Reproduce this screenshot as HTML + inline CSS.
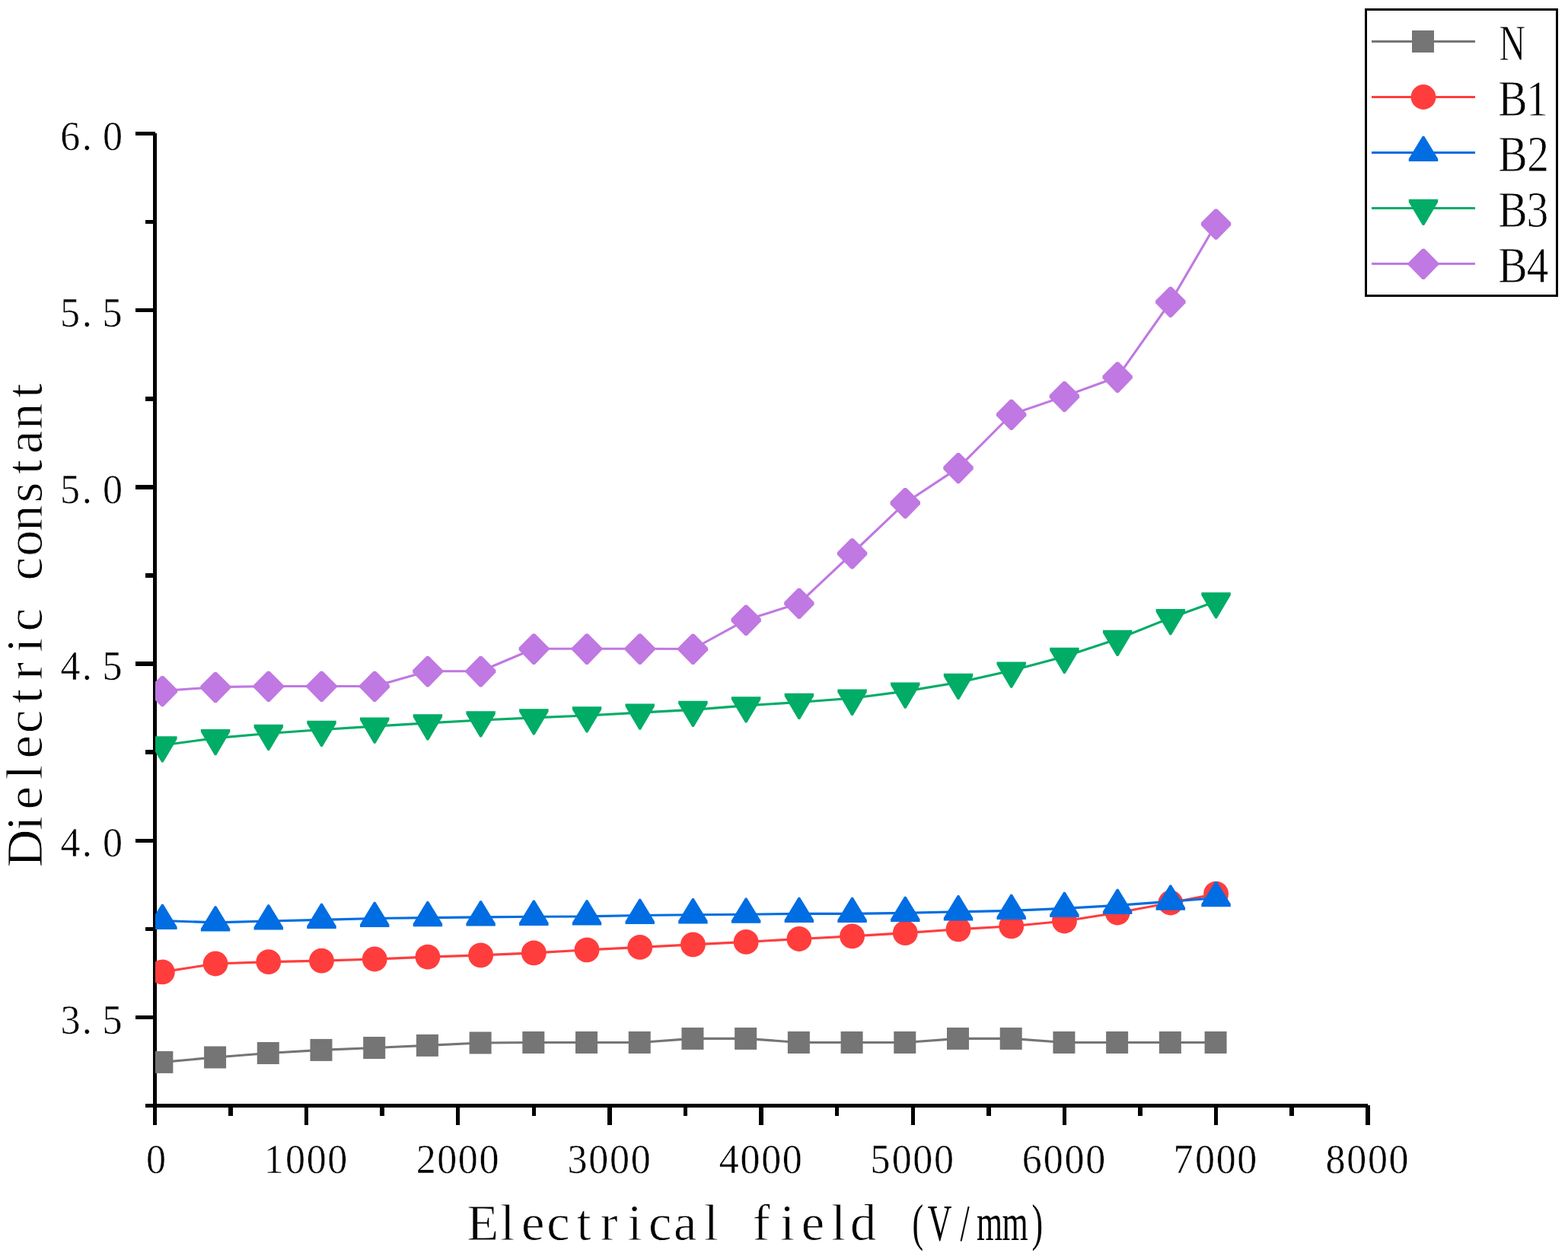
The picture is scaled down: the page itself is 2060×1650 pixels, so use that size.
<!DOCTYPE html>
<html lang="en">
<head>
<meta charset="utf-8">
<title>Dielectric constant - Electrical field (V/mm)</title>
<style>
html,body{margin:0;padding:0;background:#fff;}
body{width:2060px;height:1650px;overflow:hidden;}
svg{display:block;}
text{font-family:"Liberation Serif","Noto Serif CJK SC",serif;fill:#000;}
.tk{font-size:54.2px;stroke:#fff;stroke-width:0.5px;}
.tt{font-size:68.6px;stroke:#fff;stroke-width:0.8px;}
</style>
</head>
<body>
<svg width="2060" height="1650" viewBox="0 0 2060 1650">
<rect x="0" y="0" width="2060" height="1650" fill="#fff"/>
<g fill="#000" shape-rendering="crispEdges">
<rect x="201" y="175" width="5" height="1280"/>
<rect x="191" y="1450" width="1606" height="5"/>
<rect x="178" y="173" width="26" height="5"/>
<rect x="191" y="289" width="13" height="5"/>
<rect x="178" y="405" width="26" height="5"/>
<rect x="191" y="521" width="13" height="6"/>
<rect x="178" y="637" width="26" height="6"/>
<rect x="191" y="753" width="13" height="6"/>
<rect x="178" y="869" width="26" height="6"/>
<rect x="191" y="985" width="13" height="6"/>
<rect x="178" y="1102" width="26" height="5"/>
<rect x="191" y="1218" width="13" height="5"/>
<rect x="178" y="1334" width="26" height="5"/>
<rect x="201" y="1452" width="5" height="26"/>
<rect x="300" y="1452" width="6" height="14"/>
<rect x="400" y="1452" width="5" height="26"/>
<rect x="499" y="1452" width="6" height="14"/>
<rect x="599" y="1452" width="5" height="26"/>
<rect x="699" y="1452" width="5" height="14"/>
<rect x="798" y="1452" width="6" height="26"/>
<rect x="898" y="1452" width="5" height="14"/>
<rect x="997" y="1452" width="6" height="26"/>
<rect x="1097" y="1452" width="5" height="14"/>
<rect x="1197" y="1452" width="5" height="26"/>
<rect x="1296" y="1452" width="6" height="14"/>
<rect x="1396" y="1452" width="5" height="26"/>
<rect x="1495" y="1452" width="6" height="14"/>
<rect x="1595" y="1452" width="5" height="26"/>
<rect x="1694" y="1452" width="6" height="14"/>
<rect x="1794" y="1452" width="6" height="26"/>
</g>
<defs><clipPath id="plot"><rect x="204" y="100" width="1700" height="1350"/></clipPath></defs>
<g clip-path="url(#plot)">
<g fill="#757575" stroke="none">
<polyline points="213.36,1395.4 283.07,1389 352.78,1383.5 422.49,1379.4 492.2,1376.5 561.91,1373.4 631.62,1370 701.33,1369.5 771.03,1369.5 840.74,1369.5 910.45,1364.4 980.16,1364.4 1049.87,1369.5 1119.58,1369.5 1189.29,1369.5 1259,1364.4 1328.71,1364.4 1398.42,1369.5 1468.13,1369.5 1537.84,1369.5 1597.59,1369.5" fill="none" stroke="#757575" stroke-width="3.1" stroke-linejoin="round"/>
<rect x="198.36" y="1380.9" width="29" height="29"/>
<rect x="268.07" y="1374.5" width="29" height="29"/>
<rect x="337.78" y="1369" width="29" height="29"/>
<rect x="407.49" y="1364.9" width="29" height="29"/>
<rect x="477.2" y="1362" width="29" height="29"/>
<rect x="546.91" y="1358.9" width="29" height="29"/>
<rect x="616.62" y="1355.5" width="29" height="29"/>
<rect x="686.33" y="1355" width="29" height="29"/>
<rect x="756.03" y="1355" width="29" height="29"/>
<rect x="825.74" y="1355" width="29" height="29"/>
<rect x="895.45" y="1349.9" width="29" height="29"/>
<rect x="965.16" y="1349.9" width="29" height="29"/>
<rect x="1034.87" y="1355" width="29" height="29"/>
<rect x="1104.58" y="1355" width="29" height="29"/>
<rect x="1174.29" y="1355" width="29" height="29"/>
<rect x="1244" y="1349.9" width="29" height="29"/>
<rect x="1313.71" y="1349.9" width="29" height="29"/>
<rect x="1383.42" y="1355" width="29" height="29"/>
<rect x="1453.13" y="1355" width="29" height="29"/>
<rect x="1522.84" y="1355" width="29" height="29"/>
<rect x="1582.59" y="1355" width="29" height="29"/>
</g>
<g fill="#FF3D3D" stroke="none">
<polyline points="213.36,1276.9 283.07,1266 352.78,1263.6 422.49,1262.1 492.2,1260 561.91,1257.1 631.62,1254.9 701.33,1251.9 771.03,1247.9 840.74,1244.4 910.45,1240.9 980.16,1237.4 1049.87,1233.5 1119.58,1229.9 1189.29,1225.6 1259,1220.8 1328.71,1216.8 1398.42,1210 1468.13,1199 1537.84,1186 1597.59,1174.2" fill="none" stroke="#FF3D3D" stroke-width="3.1" stroke-linejoin="round"/>
<circle cx="213.36" cy="1276.9" r="16.4"/>
<circle cx="283.07" cy="1266" r="16.4"/>
<circle cx="352.78" cy="1263.6" r="16.4"/>
<circle cx="422.49" cy="1262.1" r="16.4"/>
<circle cx="492.2" cy="1260" r="16.4"/>
<circle cx="561.91" cy="1257.1" r="16.4"/>
<circle cx="631.62" cy="1254.9" r="16.4"/>
<circle cx="701.33" cy="1251.9" r="16.4"/>
<circle cx="771.03" cy="1247.9" r="16.4"/>
<circle cx="840.74" cy="1244.4" r="16.4"/>
<circle cx="910.45" cy="1240.9" r="16.4"/>
<circle cx="980.16" cy="1237.4" r="16.4"/>
<circle cx="1049.87" cy="1233.5" r="16.4"/>
<circle cx="1119.58" cy="1229.9" r="16.4"/>
<circle cx="1189.29" cy="1225.6" r="16.4"/>
<circle cx="1259" cy="1220.8" r="16.4"/>
<circle cx="1328.71" cy="1216.8" r="16.4"/>
<circle cx="1398.42" cy="1210" r="16.4"/>
<circle cx="1468.13" cy="1199" r="16.4"/>
<circle cx="1537.84" cy="1186" r="16.4"/>
<circle cx="1597.59" cy="1174.2" r="16.4"/>
</g>
<g fill="#006DE2" stroke="none">
<polyline points="213.36,1209.5 283.07,1211.9 352.78,1210 422.49,1208.4 492.2,1206.5 561.91,1205.6 631.62,1204.9 701.33,1204.3 771.03,1203.9 840.74,1202.5 910.45,1201.8 980.16,1201.2 1049.87,1200.4 1119.58,1200.4 1189.29,1199.4 1259,1197.8 1328.71,1196.4 1398.42,1193.4 1468.13,1189.4 1537.84,1184.2 1597.59,1179.6" fill="none" stroke="#006DE2" stroke-width="3.1" stroke-linejoin="round"/>
<path d="M212.26 1187.8L214.46 1187.8L232.56 1217.5L232.56 1221.1L194.16 1221.1L194.16 1217.5Z"/>
<path d="M281.97 1190.2L284.17 1190.2L302.27 1219.9L302.27 1223.5L263.87 1223.5L263.87 1219.9Z"/>
<path d="M351.68 1188.3L353.88 1188.3L371.98 1218L371.98 1221.6L333.58 1221.6L333.58 1218Z"/>
<path d="M421.39 1186.7L423.59 1186.7L441.69 1216.4L441.69 1220L403.29 1220L403.29 1216.4Z"/>
<path d="M491.1 1184.8L493.3 1184.8L511.4 1214.5L511.4 1218.1L473 1218.1L473 1214.5Z"/>
<path d="M560.81 1183.9L563.01 1183.9L581.11 1213.6L581.11 1217.2L542.71 1217.2L542.71 1213.6Z"/>
<path d="M630.52 1183.2L632.72 1183.2L650.82 1212.9L650.82 1216.5L612.42 1216.5L612.42 1212.9Z"/>
<path d="M700.23 1182.6L702.43 1182.6L720.53 1212.3L720.53 1215.9L682.12 1215.9L682.12 1212.3Z"/>
<path d="M769.93 1182.2L772.13 1182.2L790.23 1211.9L790.23 1215.5L751.83 1215.5L751.83 1211.9Z"/>
<path d="M839.64 1180.8L841.84 1180.8L859.94 1210.5L859.94 1214.1L821.54 1214.1L821.54 1210.5Z"/>
<path d="M909.35 1180.1L911.55 1180.1L929.65 1209.8L929.65 1213.4L891.25 1213.4L891.25 1209.8Z"/>
<path d="M979.06 1179.5L981.26 1179.5L999.36 1209.2L999.36 1212.8L960.96 1212.8L960.96 1209.2Z"/>
<path d="M1048.77 1178.7L1050.97 1178.7L1069.07 1208.4L1069.07 1212L1030.67 1212L1030.67 1208.4Z"/>
<path d="M1118.48 1178.7L1120.68 1178.7L1138.78 1208.4L1138.78 1212L1100.38 1212L1100.38 1208.4Z"/>
<path d="M1188.19 1177.7L1190.39 1177.7L1208.49 1207.4L1208.49 1211L1170.09 1211L1170.09 1207.4Z"/>
<path d="M1257.9 1176.1L1260.1 1176.1L1278.2 1205.8L1278.2 1209.4L1239.8 1209.4L1239.8 1205.8Z"/>
<path d="M1327.61 1174.7L1329.81 1174.7L1347.91 1204.4L1347.91 1208L1309.51 1208L1309.51 1204.4Z"/>
<path d="M1397.32 1171.7L1399.52 1171.7L1417.62 1201.4L1417.62 1205L1379.22 1205L1379.22 1201.4Z"/>
<path d="M1467.03 1167.7L1469.23 1167.7L1487.33 1197.4L1487.33 1201L1448.93 1201L1448.93 1197.4Z"/>
<path d="M1536.74 1162.5L1538.94 1162.5L1557.04 1192.2L1557.04 1195.8L1518.64 1195.8L1518.64 1192.2Z"/>
<path d="M1596.49 1157.9L1598.69 1157.9L1616.79 1187.6L1616.79 1191.2L1578.39 1191.2L1578.39 1187.6Z"/>
</g>
<g fill="#00AC66" stroke="none">
<polyline points="213.36,979 283.07,969.6 352.78,963.5 422.49,958.5 492.2,954.1 561.91,949.9 631.62,946 701.33,942.9 771.03,940 840.74,936.1 910.45,932.4 980.16,926.9 1049.87,922.5 1119.58,917.3 1189.29,908.1 1259,896.5 1328.71,881.1 1398.42,862.5 1468.13,839.5 1537.84,811.7 1597.59,790" fill="none" stroke="#00AC66" stroke-width="3.1" stroke-linejoin="round"/>
<path d="M194.16 967.3L232.56 967.3L232.56 971L214.46 1001.6L212.26 1001.6L194.16 971Z"/>
<path d="M263.87 957.9L302.27 957.9L302.27 961.6L284.17 992.2L281.97 992.2L263.87 961.6Z"/>
<path d="M333.58 951.8L371.98 951.8L371.98 955.5L353.88 986.1L351.68 986.1L333.58 955.5Z"/>
<path d="M403.29 946.8L441.69 946.8L441.69 950.5L423.59 981.1L421.39 981.1L403.29 950.5Z"/>
<path d="M473 942.4L511.4 942.4L511.4 946.1L493.3 976.7L491.1 976.7L473 946.1Z"/>
<path d="M542.71 938.2L581.11 938.2L581.11 941.9L563.01 972.5L560.81 972.5L542.71 941.9Z"/>
<path d="M612.42 934.3L650.82 934.3L650.82 938L632.72 968.6L630.52 968.6L612.42 938Z"/>
<path d="M682.12 931.2L720.53 931.2L720.53 934.9L702.43 965.5L700.23 965.5L682.12 934.9Z"/>
<path d="M751.83 928.3L790.23 928.3L790.23 932L772.13 962.6L769.93 962.6L751.83 932Z"/>
<path d="M821.54 924.4L859.94 924.4L859.94 928.1L841.84 958.7L839.64 958.7L821.54 928.1Z"/>
<path d="M891.25 920.7L929.65 920.7L929.65 924.4L911.55 955L909.35 955L891.25 924.4Z"/>
<path d="M960.96 915.2L999.36 915.2L999.36 918.9L981.26 949.5L979.06 949.5L960.96 918.9Z"/>
<path d="M1030.67 910.8L1069.07 910.8L1069.07 914.5L1050.97 945.1L1048.77 945.1L1030.67 914.5Z"/>
<path d="M1100.38 905.6L1138.78 905.6L1138.78 909.3L1120.68 939.9L1118.48 939.9L1100.38 909.3Z"/>
<path d="M1170.09 896.4L1208.49 896.4L1208.49 900.1L1190.39 930.7L1188.19 930.7L1170.09 900.1Z"/>
<path d="M1239.8 884.8L1278.2 884.8L1278.2 888.5L1260.1 919.1L1257.9 919.1L1239.8 888.5Z"/>
<path d="M1309.51 869.4L1347.91 869.4L1347.91 873.1L1329.81 903.7L1327.61 903.7L1309.51 873.1Z"/>
<path d="M1379.22 850.8L1417.62 850.8L1417.62 854.5L1399.52 885.1L1397.32 885.1L1379.22 854.5Z"/>
<path d="M1448.93 827.8L1487.33 827.8L1487.33 831.5L1469.23 862.1L1467.03 862.1L1448.93 831.5Z"/>
<path d="M1518.64 800L1557.04 800L1557.04 803.7L1538.94 834.3L1536.74 834.3L1518.64 803.7Z"/>
<path d="M1578.39 778.3L1616.79 778.3L1616.79 782L1598.69 812.6L1596.49 812.6L1578.39 782Z"/>
</g>
<g fill="#C078E2" stroke="none">
<polyline points="213.36,907.6 283.07,902.6 352.78,901.5 422.49,901.5 492.2,901.5 561.91,881.8 631.62,881.8 701.33,852.3 771.03,852.3 840.74,852.3 910.45,852.5 980.16,814.4 1049.87,792.5 1119.58,727 1189.29,660.7 1259,614.6 1328.71,544.5 1398.42,520.6 1468.13,495.3 1537.84,396.4 1597.59,294.2" fill="none" stroke="#C078E2" stroke-width="3.1" stroke-linejoin="round"/>
<path d="M211.76 887.9L214.96 887.9L233.06 906L233.06 909.4L214.76 928.2L211.96 928.2L193.66 909.4L193.66 906Z"/>
<path d="M281.47 882.9L284.67 882.9L302.77 901L302.77 904.4L284.47 923.2L281.67 923.2L263.37 904.4L263.37 901Z"/>
<path d="M351.18 881.8L354.38 881.8L372.48 899.9L372.48 903.3L354.18 922.1L351.38 922.1L333.08 903.3L333.08 899.9Z"/>
<path d="M420.89 881.8L424.09 881.8L442.19 899.9L442.19 903.3L423.89 922.1L421.09 922.1L402.79 903.3L402.79 899.9Z"/>
<path d="M490.6 881.8L493.8 881.8L511.9 899.9L511.9 903.3L493.6 922.1L490.8 922.1L472.5 903.3L472.5 899.9Z"/>
<path d="M560.31 862.1L563.51 862.1L581.61 880.2L581.61 883.6L563.31 902.4L560.51 902.4L542.21 883.6L542.21 880.2Z"/>
<path d="M630.02 862.1L633.22 862.1L651.32 880.2L651.32 883.6L633.02 902.4L630.22 902.4L611.92 883.6L611.92 880.2Z"/>
<path d="M699.73 832.6L702.93 832.6L721.03 850.7L721.03 854.1L702.73 872.9L699.93 872.9L681.62 854.1L681.62 850.7Z"/>
<path d="M769.43 832.6L772.63 832.6L790.73 850.7L790.73 854.1L772.43 872.9L769.63 872.9L751.33 854.1L751.33 850.7Z"/>
<path d="M839.14 832.6L842.34 832.6L860.44 850.7L860.44 854.1L842.14 872.9L839.34 872.9L821.04 854.1L821.04 850.7Z"/>
<path d="M908.85 832.8L912.05 832.8L930.15 850.9L930.15 854.3L911.85 873.1L909.05 873.1L890.75 854.3L890.75 850.9Z"/>
<path d="M978.56 794.7L981.76 794.7L999.86 812.8L999.86 816.2L981.56 835L978.76 835L960.46 816.2L960.46 812.8Z"/>
<path d="M1048.27 772.8L1051.47 772.8L1069.57 790.9L1069.57 794.3L1051.27 813.1L1048.47 813.1L1030.17 794.3L1030.17 790.9Z"/>
<path d="M1117.98 707.3L1121.18 707.3L1139.28 725.4L1139.28 728.8L1120.98 747.6L1118.18 747.6L1099.88 728.8L1099.88 725.4Z"/>
<path d="M1187.69 641L1190.89 641L1208.99 659.1L1208.99 662.5L1190.69 681.3L1187.89 681.3L1169.59 662.5L1169.59 659.1Z"/>
<path d="M1257.4 594.9L1260.6 594.9L1278.7 613L1278.7 616.4L1260.4 635.2L1257.6 635.2L1239.3 616.4L1239.3 613Z"/>
<path d="M1327.11 524.8L1330.31 524.8L1348.41 542.9L1348.41 546.3L1330.11 565.1L1327.31 565.1L1309.01 546.3L1309.01 542.9Z"/>
<path d="M1396.82 500.9L1400.02 500.9L1418.12 519L1418.12 522.4L1399.82 541.2L1397.02 541.2L1378.72 522.4L1378.72 519Z"/>
<path d="M1466.53 475.6L1469.73 475.6L1487.83 493.7L1487.83 497.1L1469.53 515.9L1466.73 515.9L1448.43 497.1L1448.43 493.7Z"/>
<path d="M1536.24 376.7L1539.44 376.7L1557.54 394.8L1557.54 398.2L1539.24 417L1536.44 417L1518.14 398.2L1518.14 394.8Z"/>
<path d="M1595.99 274.5L1599.19 274.5L1617.29 292.6L1617.29 296L1598.99 314.8L1596.19 314.8L1577.89 296L1577.89 292.6Z"/>
</g>
</g>
<g class="tk">
<text transform="scale(0.96 1)" x="82.58 112.11 140.58" y="196.7">6.0</text>
<text transform="scale(0.96 1)" x="82.42 112.11 140.07" y="428.9">5.5</text>
<text transform="scale(0.96 1)" x="82.42 112.11 140.58" y="661.1">5.0</text>
<text transform="scale(0.96 1)" x="82.83 112.11 140.07" y="893.3">4.5</text>
<text transform="scale(0.96 1)" x="82.83 112.11 140.58" y="1125.5">4.0</text>
<text transform="scale(0.96 1)" x="82.69 112.11 140.07" y="1357.7">3.5</text>
<text transform="scale(0.96 1)" x="199.89" y="1540.8">0</text>
<text transform="scale(0.96 1)" x="361.07 390.65 419.48 448.3" y="1540.8">1000</text>
<text transform="scale(0.96 1)" x="569.6 598.12 626.94 655.77" y="1540.8">2000</text>
<text transform="scale(0.96 1)" x="776.52 805.59 834.41 863.24" y="1540.8">3000</text>
<text transform="scale(0.96 1)" x="984.13 1013.06 1041.88 1070.71" y="1540.8">4000</text>
<text transform="scale(0.96 1)" x="1191.19 1220.53 1249.35 1278.17" y="1540.8">5000</text>
<text transform="scale(0.96 1)" x="1398.82 1428 1456.82 1485.64" y="1540.8">6000</text>
<text transform="scale(0.96 1)" x="1605.64 1635.47 1664.29 1693.11" y="1540.8">7000</text>
<text transform="scale(0.96 1)" x="1814.11 1842.93 1871.76 1900.58" y="1540.8">8000</text>
</g>
<g class="tt">
<text x="613.18 657.32 684.93 718.27 757.51 788.82 824.46 852.03 884.99 924.84 959.25 988.77 1025.1 1052.77 1092.04 1117.05 1159.88" y="1629.4">Electrical field <tspan x="1198.43 1218.65 1261.6 1283.11 1316.51 1355.45" textLength="141.44" lengthAdjust="spacingAndGlyphs" stroke="none">(V/mm)</tspan></text>
<text transform="translate(55 814) rotate(-90) scale(1 1)" x="-325.35 -277.12 -249.45 -210.18 -182.57 -149.23 -109.99 -78.68 -43.04 -15.47 24.87 51.41 83.17 116.34 153.69 190.97 218.13 250.1 291.29" y="0">Dielectric constant</text>
</g>
<rect x="1794.5" y="12.5" width="251" height="376" fill="#fff" stroke="#000" stroke-width="3" shape-rendering="crispEdges"/>
<g fill="#757575" stroke="none">
<rect x="1802" y="53" width="136" height="3" shape-rendering="crispEdges"/>
<rect x="1855" y="40" width="29" height="29"/>
</g>
<g fill="#FF3D3D" stroke="none">
<rect x="1802" y="126" width="136" height="3" shape-rendering="crispEdges"/>
<circle cx="1870" cy="127.5" r="16.4"/>
</g>
<g fill="#006DE2" stroke="none">
<rect x="1802" y="199" width="136" height="3" shape-rendering="crispEdges"/>
<path d="M1868.9 178.8L1871.1 178.8L1889.2 208.5L1889.2 212.1L1850.8 212.1L1850.8 208.5Z"/>
</g>
<g fill="#00AC66" stroke="none">
<rect x="1802" y="272" width="136" height="3" shape-rendering="crispEdges"/>
<path d="M1850.8 261.8L1889.2 261.8L1889.2 265.5L1871.1 296.1L1868.9 296.1L1850.8 265.5Z"/>
</g>
<g fill="#C078E2" stroke="none">
<rect x="1802" y="345" width="136" height="3" shape-rendering="crispEdges"/>
<path d="M1868.4 326.8L1871.6 326.8L1889.7 344.9L1889.7 348.3L1871.4 367.1L1868.6 367.1L1850.3 348.3L1850.3 344.9Z"/>
</g>
<g class="tt">
<text transform="scale(0.7 1)" x="2813.6" y="78.8">N</text>
<text transform="scale(0.84 1)" x="2343.28 2387.01" y="151.8">B1</text>
<text transform="scale(0.84 1)" x="2343.28 2388.35" y="224.8">B2</text>
<text transform="scale(0.84 1)" x="2343.28 2387.66" y="297.8">B3</text>
<text transform="scale(0.84 1)" x="2343.28 2387.83" y="370.8">B4</text>
</g>
</svg>
</body>
</html>
